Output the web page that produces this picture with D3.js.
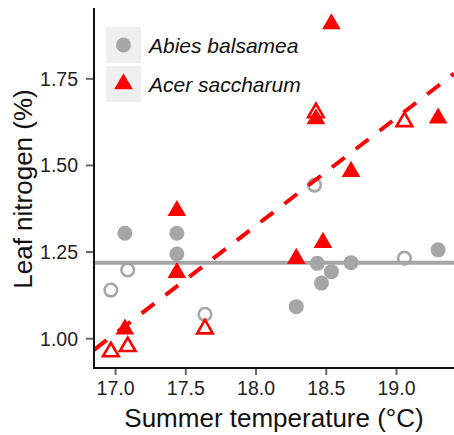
<!DOCTYPE html>
<html>
<head>
<meta charset="utf-8">
<script src="https://cdn.jsdelivr.net/npm/d3@7"></script>
<style>
  html, body { margin: 0; padding: 0; background: #fff; }
  svg { display: block; font-family: Arial, "Liberation Sans", sans-serif; }
</style>
</head>
<body>
<svg id="chart" width="454" height="435"></svg>
<script>
// ---- data ----
const xTicks = [17.0, 17.5, 18.0, 18.5, 19.0];
const yTicks = [1.00, 1.25, 1.50, 1.75];

// Abies balsamea (grey circles)
const abiesFilledX = [17.07, 17.44, 17.44, 18.29, 18.44, 18.47, 18.54, 18.68, 19.30];
const abiesFilledY = [1.303, 1.303, 1.243, 1.091, 1.216, 1.159, 1.192, 1.218, 1.255];
const abiesOpenX   = [16.97, 17.09, 17.64, 18.42, 19.06];
const abiesOpenY   = [1.139, 1.197, 1.069, 1.442, 1.231];

// Acer saccharum (red triangles)
const acerFilledX = [18.54, 18.43, 19.30, 18.68, 17.44, 18.48, 18.29, 17.44, 17.07];
const acerFilledY = [1.907, 1.633, 1.635, 1.481, 1.368, 1.276, 1.230, 1.189, 1.026];
const acerOpenX   = [18.43, 19.06, 17.64, 16.97, 17.09];
const acerOpenY   = [1.651, 1.625, 1.027, 0.961, 0.976];

// fitted lines: [intercept, slope]
const abiesFit = [1.218, 0];
const acerFit  = [-4.274, 0.311];

const species = ["Abies balsamea", "Acer saccharum"];

// ---- layout ----
const W = 454, H = 435;
const margin = {left: 94, top: 8, right: 0, bottom: 67};
const xDomain = [16.85, 19.413];
const yDomain = [0.914, 1.953];

const grey = "#a6a6a6";
const red = "#ff0000";

const svg = d3.select("#chart");
const x = d3.scaleLinear().domain(xDomain).range([margin.left, W - margin.right]);
const y = d3.scaleLinear().domain(yDomain).range([H - margin.bottom, margin.top]);

svg.append("defs").append("clipPath").attr("id", "panel")
  .append("rect")
  .attr("x", margin.left).attr("y", margin.top)
  .attr("width", W - margin.left - margin.right)
  .attr("height", H - margin.top - margin.bottom);

const panel = svg.append("g").attr("clip-path", "url(#panel)");

// grey fit line
const lineGen = d3.line().x(d => x(d[0])).y(d => y(d[1]));
const fitPts = f => xDomain.map(v => [v, f[0] + f[1] * v]);

panel.append("path")
  .attr("d", lineGen(fitPts(abiesFit)))
  .attr("fill", "none").attr("stroke", grey).attr("stroke-width", 4);

const zip = (xs, ys) => xs.map((v, i) => [v, ys[i]]);

// circles
panel.selectAll(".af").data(zip(abiesFilledX, abiesFilledY)).join("circle")
  .attr("cx", d => x(d[0])).attr("cy", d => y(d[1])).attr("r", 7.5)
  .attr("fill", grey);
panel.selectAll(".ao").data(zip(abiesOpenX, abiesOpenY)).join("circle")
  .attr("cx", d => x(d[0])).attr("cy", d => y(d[1])).attr("r", 6.3)
  .attr("fill", "none").attr("stroke", grey).attr("stroke-width", 2.6);

// triangles
const triFilled = d3.symbol().type(d3.symbolTriangle).size(150);
const triOpen = d3.symbol().type(d3.symbolTriangle).size(105);
panel.selectAll(".tf").data(zip(acerFilledX, acerFilledY)).join("path")
  .attr("transform", d => `translate(${x(d[0])},${y(d[1])})`)
  .attr("d", triFilled()).attr("fill", red);
panel.selectAll(".to").data(zip(acerOpenX, acerOpenY)).join("path")
  .attr("transform", d => `translate(${x(d[0])},${y(d[1])})`)
  .attr("d", triOpen()).attr("fill", "none").attr("stroke", red)
  .attr("stroke-width", 2.6).attr("stroke-linejoin", "miter");

// red dashed fit
panel.append("path")
  .attr("d", lineGen(fitPts(acerFit)))
  .attr("fill", "none").attr("stroke", red).attr("stroke-width", 4)
  .attr("stroke-dasharray", "16,14");

// ---- axes ----
const xAxis = svg.append("g")
  .attr("transform", `translate(0,${H - margin.bottom})`)
  .call(d3.axisBottom(x).tickValues(xTicks).tickFormat(d3.format(".1f")).tickSize(7).tickPadding(6));
const yAxis = svg.append("g")
  .attr("transform", `translate(${margin.left},0)`)
  .call(d3.axisLeft(y).tickValues(yTicks).tickFormat(d3.format(".2f")).tickSize(8).tickPadding(8));

[xAxis, yAxis].forEach(g => {
  g.select(".domain").remove();
  g.selectAll(".tick line").attr("stroke", "#666").attr("stroke-width", 2);
  g.selectAll(".tick text").attr("fill", "#222").attr("font-size", "19.5px")
    .attr("font-family", "Arial, 'Liberation Sans', sans-serif");
});
xAxis.selectAll(".tick text").attr("dy", "0.71em");
yAxis.selectAll(".tick text").attr("dy", "0.36em");

// axis lines
svg.append("line")
  .attr("x1", margin.left).attr("x2", margin.left)
  .attr("y1", margin.top).attr("y2", H - margin.bottom + 1)
  .attr("stroke", "#111").attr("stroke-width", 2);
svg.append("line")
  .attr("x1", margin.left - 1).attr("x2", W - margin.right)
  .attr("y1", H - margin.bottom).attr("y2", H - margin.bottom)
  .attr("stroke", "#111").attr("stroke-width", 2);

// axis titles
svg.append("text")
  .attr("x", 274).attr("y", 427)
  .attr("text-anchor", "middle").attr("font-size", "26px").attr("fill", "#111")
  .text("Summer temperature (°C)");
svg.append("text")
  .attr("transform", `translate(32,${(margin.top + H - margin.bottom) / 2 + 1}) rotate(-90)`)
  .attr("text-anchor", "middle").attr("font-size", "26px").attr("fill", "#111")
  .text("Leaf nitrogen (%)");

// ---- legend ----
const legend = svg.append("g");
const keyY = [27, 66];
species.forEach((s, i) => {
  legend.append("rect")
    .attr("x", 106).attr("y", keyY[i]).attr("width", 35).attr("height", 36)
    .attr("fill", "#efefef");
  legend.append("text")
    .attr("x", 149).attr("y", keyY[i] + 26)
    .attr("font-size", "21px").attr("font-style", "italic").attr("fill", "#111")
    .text(s);
});
legend.append("circle").attr("cx", 123.5).attr("cy", keyY[0] + 18).attr("r", 7.5).attr("fill", grey);
legend.append("path").attr("transform", `translate(123.5,${keyY[1] + 18})`)
  .attr("d", triFilled()).attr("fill", red);
</script>
</body>
</html>
